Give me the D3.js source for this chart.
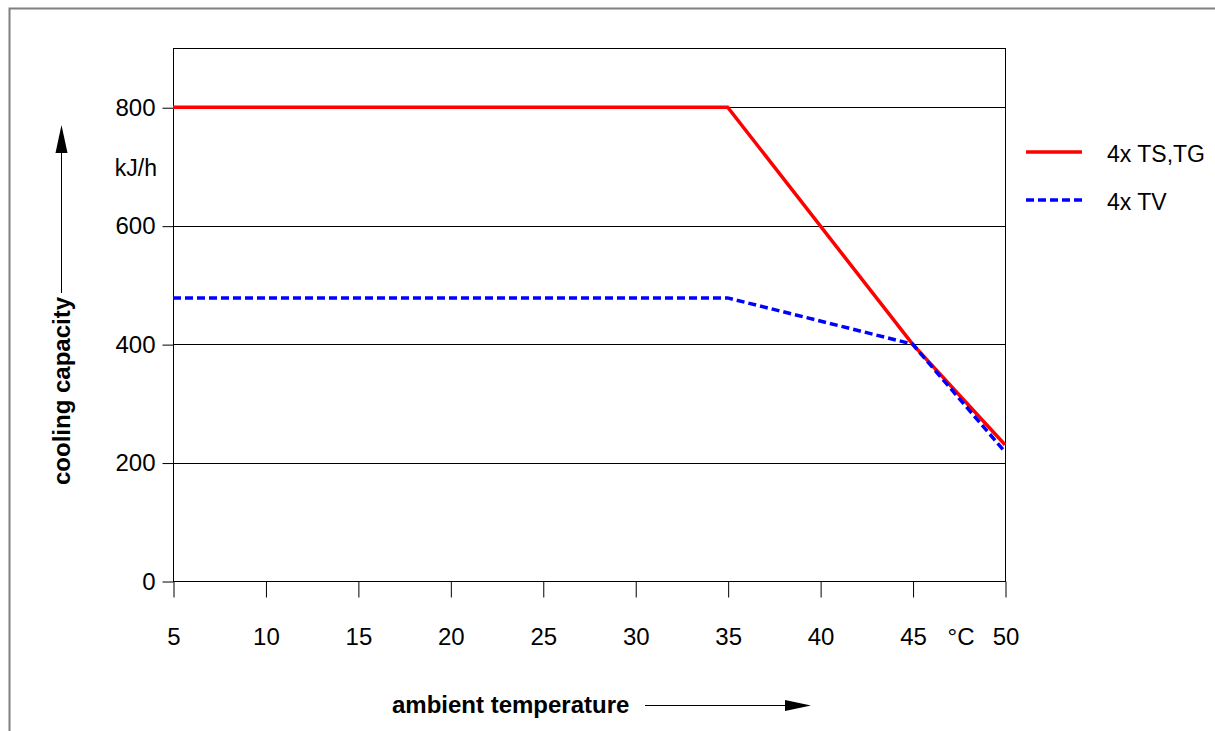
<!DOCTYPE html>
<html><head><meta charset="utf-8">
<script src="https://cdn.jsdelivr.net/npm/d3@7"></script>
<style>body{margin:0;background:#fff;} svg{display:block;font-family:"Liberation Sans",Arial,sans-serif;}</style>
</head><body>
<svg id="c" width="1215" height="731"></svg>
<script>
const temps = [5, 35, 45, 50];
const tsTg = [800, 800, 400, 230];
const tv = [478, 478, 400, 218];
const xTicks = [5, 10, 15, 20, 25, 30, 35, 40, 45, 50];
const yTicks = [0, 200, 400, 600, 800];
const seriesNames = ["4x TS,TG", "4x TV"];

const FONT = "Liberation Sans, Arial, sans-serif";
const svg = d3.select("#c");
const L = 173, R = 1005, T = 48, B = 581;
const x = d3.scaleLinear().domain([5, 50]).range([L, R]);
const y = d3.scaleLinear().domain([0, 900]).range([B, T]);

// outer frame
svg.append("path").attr("d", "M9.5,740 V8.5 H1230").attr("fill", "none").attr("stroke", "#808080").attr("stroke-width", 2);

// grid
svg.append("g").selectAll("line").data(yTicks.filter(d => d > 0)).join("line")
  .attr("x1", L).attr("x2", R).attr("y1", d => Math.round(y(d)) + 0.5).attr("y2", d => Math.round(y(d)) + 0.5)
  .attr("stroke", "#000").attr("stroke-width", 1);

// frame
svg.append("rect").attr("x", L + 0.5).attr("y", T + 0.5).attr("width", R - L).attr("height", B - T)
  .attr("fill", "none").attr("stroke", "#000").attr("stroke-width", 1);

// y axis
const ya = svg.append("g").attr("transform", `translate(${L + 0.5},0.5)`)
  .call(d3.axisLeft(y).tickValues(yTicks).tickSize(11).tickPadding(7).tickFormat(d3.format("d")));
ya.attr("font-size", null).attr("font-family", null);
ya.select(".domain").remove();
ya.selectAll("text").attr("font-size", 24).attr("fill", "#000").attr("font-family", FONT);

// x axis
const xa = svg.append("g").attr("transform", `translate(0.5,${B + 0.5})`)
  .call(d3.axisBottom(x).tickValues(xTicks).tickSize(16).tickPadding(30).tickFormat(d3.format("d")));
xa.attr("font-size", null).attr("font-family", null);
xa.select(".domain").remove();
xa.selectAll("text").attr("font-size", 24).attr("fill", "#000").attr("font-family", FONT);

// units
svg.append("text").attr("x", 961).attr("y", 628).attr("dy", "0.71em").attr("text-anchor", "middle").attr("font-size", 24).text("°C");
svg.append("text").attr("x", 157).attr("y", 176).attr("text-anchor", "end").attr("font-size", 23).text("kJ/h");

// lines
const line = d3.line().x((d, i) => x(temps[i])).y(d => y(d));
svg.append("path").datum(tsTg).attr("d", line).attr("fill", "none").attr("stroke", "#ff0000").attr("stroke-width", 3.5);
svg.append("path").datum(tv).attr("d", line).attr("fill", "none").attr("stroke", "#0000ff").attr("stroke-width", 3.5).attr("stroke-dasharray", "8,4");

// legend
const lg = svg.append("g");
const legY = [152, 200];
seriesNames.forEach((n, i) => {
  lg.append("line").attr("x1", 1026).attr("x2", 1082).attr("y1", legY[i]).attr("y2", legY[i])
    .attr("stroke", i === 0 ? "#ff0000" : "#0000ff").attr("stroke-width", 3.5)
    .attr("stroke-dasharray", i === 0 ? null : "8,4");
  lg.append("text").attr("x", 1107).attr("y", legY[i] + 10).attr("font-size", 23).text(n);
});

// axis titles
svg.append("text").attr("transform", "translate(70,391) rotate(-90)").attr("text-anchor", "middle")
  .attr("font-size", 24).attr("font-weight", "bold").text("cooling capacity");
svg.append("line").attr("x1", 61.5).attr("x2", 61.5).attr("y1", 293).attr("y2", 150).attr("stroke", "#000").attr("stroke-width", 1);
svg.append("path").attr("d", "M61.5,125 L67.5,153 L55.5,153 Z").attr("fill", "#000");

svg.append("text").attr("x", 392).attr("y", 713).attr("font-size", 24).attr("font-weight", "bold").text("ambient temperature");
svg.append("line").attr("x1", 645).attr("x2", 788).attr("y1", 705.5).attr("y2", 705.5).attr("stroke", "#000").attr("stroke-width", 1);
svg.append("path").attr("d", "M811,705.5 L785,700 L785,711 Z").attr("fill", "#000");
</script>
</body></html>
